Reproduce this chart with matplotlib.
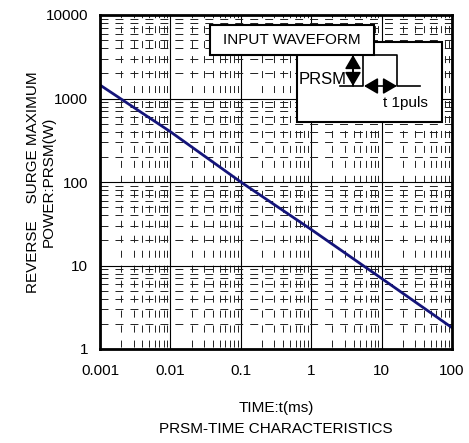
import matplotlib
matplotlib.use("Agg")
import matplotlib.pyplot as plt
from matplotlib.patches import Rectangle
from matplotlib.ticker import LogLocator, NullFormatter, FixedLocator

plt.rcParams['font.family'] = ['Liberation Sans', 'DejaVu Sans']

# PRSM vs pulse time
time_ms = [0.001, 0.01, 0.1, 1, 10, 100]
prsm_w = [1450, 400, 100, 27, 7, 1.8]

x_ticks = [0.001, 0.01, 0.1, 1, 10, 100]
x_tick_labels = ['0.001', '0.01', '0.1', '1', '10', '100']
y_ticks = [1, 10, 100, 1000, 10000]
y_tick_labels = ['1', '10', '100', '1000', '10000']

W, H = 469, 443
fig = plt.figure(figsize=(W / 100, H / 100), dpi=100)
L, R, T, B = 100, 452, 15, 349
ax = fig.add_axes([L / W, 1 - B / H, (R - L) / W, (B - T) / H])

ax.set_xscale('log')
ax.set_yscale('log')
ax.set_xlim(0.001, 100)
ax.set_ylim(1, 10000)

ax.plot(time_ms, prsm_w, color='#14147a', lw=2, zorder=4)

ax.xaxis.set_major_locator(FixedLocator(x_ticks))
ax.set_xticklabels(x_tick_labels)
ax.yaxis.set_major_locator(FixedLocator(y_ticks))
ax.set_yticklabels(y_tick_labels)
ax.xaxis.set_minor_locator(LogLocator(base=10, subs=range(2, 10), numticks=20))
ax.yaxis.set_minor_locator(LogLocator(base=10, subs=range(2, 10), numticks=20))
ax.xaxis.set_minor_formatter(NullFormatter())
ax.yaxis.set_minor_formatter(NullFormatter())
ax.tick_params(which='both', length=0)
ax.tick_params(axis='x', pad=11, labelsize=11)
ax.tick_params(axis='y', pad=8.5, labelsize=11)

ax.grid(which='major', color='black', lw=0.8, ls='-')
ax.xaxis.grid(which='minor', color='#222222', lw=0.7, ls=(13.4, (7.2, 8.2)))
ax.yaxis.grid(which='minor', color='#222222', lw=0.7, ls=(0, (8.2, 7.2)))
for s in ax.spines.values():
    s.set_linewidth(2)
    s.set_zorder(5)

fig.text(276 / W, 1 - 408 / H, 'TIME:t(ms)', ha='center', va='center', fontsize=11)
fig.text(276 / W, 1 - 429 / H, 'PRSM-TIME CHARACTERISTICS', ha='center',
         va='center', fontsize=11)
fig.text(41 / W, 1 - 182 / H, 'REVERSE    SURGE MAXIMUM\nPOWER:PRSM(W)',
         ha='center', va='center', rotation=90, fontsize=11, linespacing=1.15,
         multialignment='center')


# inset: input waveform sketch, positioned in pixel space of the axes
def px(x, y):
    return ((x - L) / (R - L), (B - y) / (B - T))


def box(x0, y0, x1, y1, lw=1.5):
    a = px(x0, y1)
    b = px(x1, y0)
    ax.add_patch(Rectangle(a, b[0] - a[0], b[1] - a[1], transform=ax.transAxes,
                           facecolor='white', edgecolor='black', lw=lw, zorder=6))


def seg(pts, lw=1.2):
    xs, ys = zip(*[px(*p) for p in pts])
    ax.plot(xs, ys, color='black', lw=lw, transform=ax.transAxes, zorder=7,
            clip_on=False)


box(297, 42, 442, 122)
box(210, 25, 374, 55)
ax.text(*px(292, 40), 'INPUT WAVEFORM', transform=ax.transAxes,
        ha='center', va='center', fontsize=11, zorder=8)

# pulse
seg([(340, 86), (363, 86), (363, 55), (397, 55), (397, 86), (420, 86)])
# PRSM arrow
ax.annotate('', xy=px(353, 55), xytext=px(353, 86), xycoords=ax.transAxes,
            textcoords=ax.transAxes, zorder=8,
            arrowprops=dict(arrowstyle='-|>,head_length=0.6,head_width=0.35',
                            color='black', lw=1.2, mutation_scale=14,
                            shrinkA=0, shrinkB=0))
ax.annotate('', xy=px(353, 86), xytext=px(353, 55), xycoords=ax.transAxes,
            textcoords=ax.transAxes, zorder=8,
            arrowprops=dict(arrowstyle='-|>,head_length=0.6,head_width=0.35',
                            color='black', lw=1.2, mutation_scale=14,
                            shrinkA=0, shrinkB=0))
ax.annotate('', xy=px(364, 86), xytext=px(397, 86), xycoords=ax.transAxes,
            textcoords=ax.transAxes, zorder=8,
            arrowprops=dict(arrowstyle='<|-|>,head_length=0.6,head_width=0.35',
                            color='black', lw=1.2, mutation_scale=14,
                            shrinkA=0, shrinkB=0))
ax.text(*px(323, 79), 'PRSM', transform=ax.transAxes,
        ha='center', va='center', fontsize=12, zorder=8)
ax.text(*px(405, 103), 't 1puls', transform=ax.transAxes,
        ha='center', va='center', fontsize=11, zorder=8)

fig.savefig('out.png', dpi=100)
